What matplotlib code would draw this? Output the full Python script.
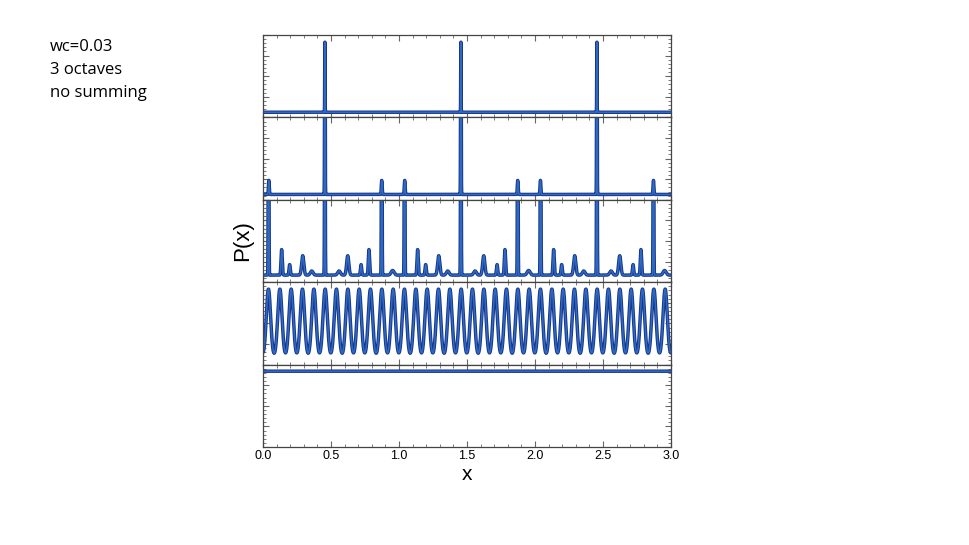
import numpy as np
import matplotlib
matplotlib.use('Agg')
import matplotlib.pyplot as plt
import matplotlib.patheffects as pe
from matplotlib.ticker import MultipleLocator, AutoMinorLocator

# ---------------- data (panel units: 0 = bottom, 1 = top) ----------------

# panel 1: narrow spikes on a flat floor
p1_base = 0.0625
p1_centers = [0.455, 1.455, 2.455]
p1_heights = [0.85, 0.85, 0.85]
p1_widths = [0.0012, 0.0012, 0.0012]

# panel 2: the same spikes (clipped) plus small side peaks
p2_base = 0.065
p2_centers = [0.455, 1.455, 2.455, 0.043, 0.873, 1.042, 1.873, 2.040, 2.871]
p2_heights = [3.0, 3.0, 3.0, 0.17, 0.17, 0.17, 0.17, 0.17, 0.17]
p2_widths = [0.0018, 0.0018, 0.0018, 0.0030, 0.0030, 0.0030, 0.0030, 0.0030, 0.0030]

# panel 3: clipped spikes plus a family of smaller peaks in every period
p3_base = 0.086
p3_tall = [0.041, 0.455, 0.873, 1.041, 1.455, 1.873, 2.041, 2.455, 2.871]
p3_small = [0.137, 0.196, 0.292, 0.358, 0.559, 0.623, 0.721, 0.779, 0.953,
            1.137, 1.196, 1.292, 1.358, 1.559, 1.623, 1.721, 1.779, 1.953,
            2.137, 2.196, 2.292, 2.358, 2.559, 2.623, 2.721, 2.779, 2.953]
p3_small_h = [0.31, 0.127, 0.235, 0.05, 0.05, 0.235, 0.127, 0.31, 0.056,
              0.31, 0.127, 0.235, 0.05, 0.05, 0.235, 0.127, 0.31, 0.056,
              0.31, 0.127, 0.235, 0.05, 0.05, 0.235, 0.127, 0.31, 0.056]
p3_small_w = [0.0045, 0.0045, 0.008, 0.010, 0.010, 0.008, 0.0045, 0.0045, 0.011,
              0.0045, 0.0045, 0.008, 0.010, 0.010, 0.008, 0.0045, 0.0045, 0.011,
              0.0045, 0.0045, 0.008, 0.010, 0.010, 0.008, 0.0045, 0.0045, 0.011]

# panel 4: regular comb of broad peaks
p4_base = 0.09
p4_centers = [-0.043, 0.040, 0.124, 0.207, 0.290, 0.374, 0.457, 0.540, 0.624, 0.707,
              0.790, 0.874, 0.957, 1.040, 1.124, 1.207, 1.290, 1.374, 1.457,
              1.540, 1.624, 1.707, 1.790, 1.874, 1.957, 2.040, 2.124, 2.207,
              2.290, 2.374, 2.457, 2.540, 2.624, 2.707, 2.790, 2.874, 2.957, 3.040]
p4_height = 0.826
p4_width = 0.0158

# panel 5: flat
p5_level = 0.92

x_ticks = [0.0, 0.5, 1.0, 1.5, 2.0, 2.5, 3.0]
x_labels = ['0.0', '0.5', '1.0', '1.5', '2.0', '2.5', '3.0']
note_lines = ['wc=0.03', '3 octaves', 'no summing']

# ---------------- build curves ----------------
x = np.linspace(0, 3, 12001)


def peaks(base, centers, heights, widths):
    y = np.full_like(x, base)
    for c, h, w in zip(centers, heights, widths):
        y += h * np.exp(-(x - c) ** 2 / (2 * w ** 2))
    return y


y1 = peaks(p1_base, p1_centers, p1_heights, p1_widths)
y2 = peaks(p2_base, p2_centers, p2_heights, p2_widths)
y3 = peaks(p3_base, p3_tall, [3.0] * len(p3_tall), [0.0022] * len(p3_tall))
y3 += peaks(0.0, p3_small, p3_small_h, p3_small_w)
y4 = peaks(p4_base, p4_centers, [p4_height] * len(p4_centers), [p4_width] * len(p4_centers))
y5 = np.full_like(x, p5_level)

curves = [y1, y2, y3, y4, y5]

# ---------------- figure ----------------
fig = plt.figure(figsize=(9.69, 5.45), dpi=100)

left, right = 263 / 969, 671 / 969
top, bottom = 1 - 35 / 545, 1 - 447 / 545
h = (top - bottom) / 5

line_fx = [pe.Stroke(linewidth=2.5, foreground='#17378a'), pe.Normal()]

for i, y in enumerate(curves):
    ax = fig.add_axes([left, top - (i + 1) * h, right - left, h])
    ax.plot(x, y, color='#2e69c2', lw=1.1, path_effects=line_fx, solid_capstyle='butt')
    ax.set_xlim(0, 3)
    ax.set_ylim(0, 1)
    ax.xaxis.set_major_locator(MultipleLocator(0.5))
    ax.xaxis.set_minor_locator(MultipleLocator(0.1))
    ax.yaxis.set_major_locator(MultipleLocator(0.25))
    ax.yaxis.set_minor_locator(AutoMinorLocator(5))
    ax.tick_params(which='both', direction='in', top=True, right=True, colors='#666666')
    ax.tick_params(which='major', length=4, width=0.8)
    ax.tick_params(which='minor', length=2, width=0.6)
    ax.set_yticklabels([])
    for s in ax.spines.values():
        s.set_color('#444444')
        s.set_linewidth(0.9)
    if i < 4:
        ax.set_xticklabels([])
    else:
        ax.set_xticks(x_ticks)
        ax.set_xticklabels(x_labels, fontsize=9, family='Liberation Sans')
        ax.tick_params(axis='x', which='major', labelcolor='black', pad=2)
        ax.set_xlabel('x', fontsize=15, family='Liberation Sans', labelpad=2)

fig.text(243 / 969, 1 - 241 / 545, 'P(x)', rotation=90, fontsize=16,
         family='Liberation Sans', ha='center', va='center')

for k, t in enumerate(note_lines):
    fig.text(50 / 969, 1 - (47 + 23 * k) / 545, t, fontsize=12,
             family='Open Sans', ha='left', va='center')

fig.savefig('out.png', dpi=100)
